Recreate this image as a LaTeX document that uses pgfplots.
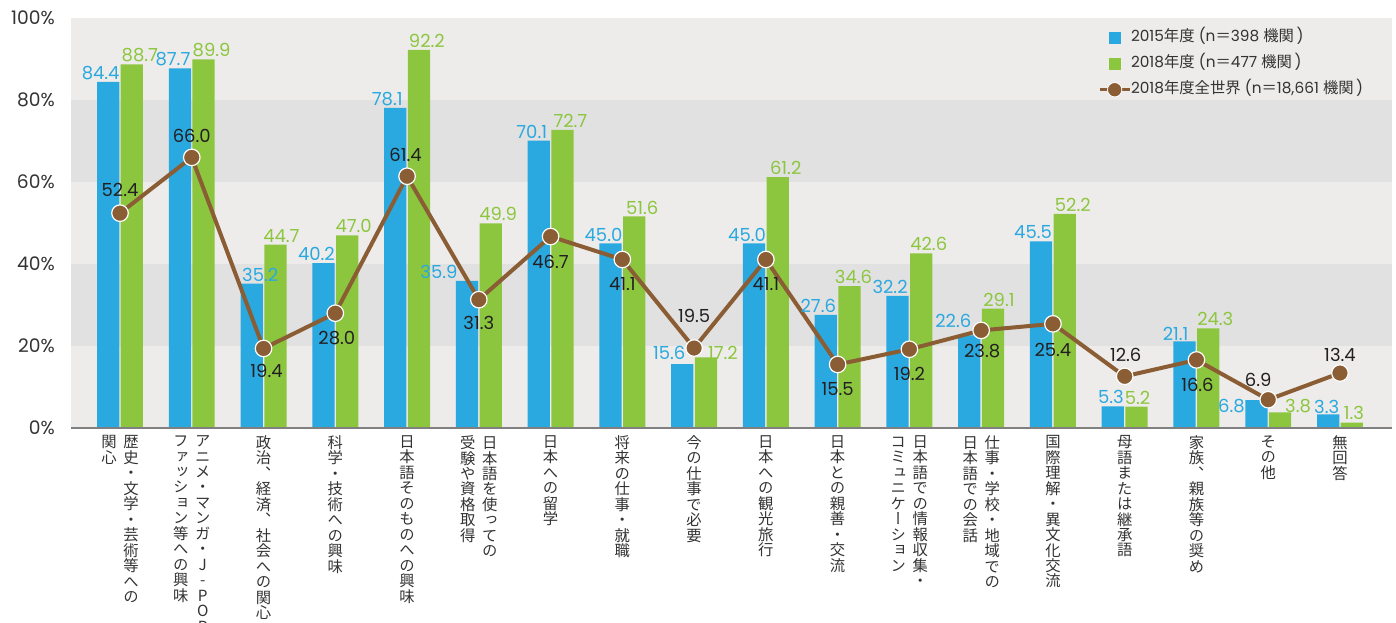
\documentclass[border=0pt]{standalone}
\usepackage{pgfplots}
\pgfplotsset{compat=1.18}
\usepackage{pgfplotstable}
\usepackage{fontspec}
\setmainfont{Poppins}
\newfontfamily\jp{Noto Sans CJK JP}
\newfontfamily\jpv{Noto Sans CJK JP}[RawFeature=+vert]
\definecolor{cblue}{HTML}{29A9E0}
\definecolor{cgreen}{HTML}{8CC63F}
\definecolor{cbrown}{HTML}{8A5D34}
\definecolor{bglight}{HTML}{EEECEA}
\definecolor{bgdark}{HTML}{E1E1E1}
\definecolor{axisgray}{HTML}{808080}
\definecolor{txt}{HTML}{333333}
\definecolor{txtd}{HTML}{231F20}
\makeatletter
\protected\def\vcol#1{\vtop{\baselineskip=11.6pt\lineskiplimit=-100pt\lineskip=0pt\@tfor\vc@c:=#1\do{\hbox to 11.5pt{\hss\vc@c\hss}}}}
\makeatother
\protected\def\vlab#1#2{\hbox{\vcol{#2}\kern5pt\vcol{#1}}}
\pgfplotstableread{
x v15 a15 b15 v18 a18 b18 vw aw bw
0 84.4 -7.5 9 88.7 8 9 52.4 0 23.5
1 87.7 -7 9 89.9 8 9 66.0 0 21
2 35.2 8.5 9 44.7 6 9 19.4 3 -22
3 40.2 -7 9 47.0 6.5 9 28.0 1.5 -24.5
4 78.1 -8 9 92.2 8 9 61.4 -1.5 21.5
5 35.9 -28 9 49.9 7.5 9 31.3 0 -23.5
6 70.1 -7 9 72.7 8 9 46.7 0 -25.5
7 45.0 -7 9 51.6 8 9 41.1 0 -25
8 15.6 -13 11 17.2 17 5 19.5 0 32
9 45.0 -7 9 61.2 8 9 41.1 0 -25
10 27.6 -7.5 9 34.6 4 9 15.5 0 -24.5
11 32.2 -7.5 9 42.6 7.5 9 19.2 0 -24.5
12 22.6 -16 14 29.1 6 9 23.8 1 -20.5
13 45.5 -8 9 52.2 8 9 25.4 0 -26
14 5.3 -2 9 5.2 1 9 12.6 1 21
15 21.1 -9 8 24.3 7 9 16.6 1 -25
16 6.8 -25 -6 3.8 18 6 6.9 -10 19.5
17 3.3 -1.5 8 1.3 2 9.5 13.4 0 18
}\data
\begin{document}
\begin{tikzpicture}
\begin{axis}[
  scale only axis, width=990.75pt, height=307.5pt,
  xmin=-0.683, xmax=17.725, ymin=0, ymax=100,
  clip=false, axis on top,
  separate axis lines,
  axis x line*=bottom, axis y line*=left,
  y axis line style={draw=none},
  x axis line style={draw=axisgray, line width=1.5pt},
  major tick length=0pt,
  xtick={0,...,17},
  xticklabels={
    {\vlab{歴史・文学・芸術等への}{関心}},
    {\vlab{アニメ・マンガ・J-POP・}{ファッション等への興味}},
    {\vcol{政治、経済、社会への関心}},
    {\vcol{科学・技術への興味}},
    {\vcol{日本語そのものへの興味}},
    {\vlab{日本語を使っての}{受験や資格取得}},
    {\vcol{日本への留学}},
    {\vcol{将来の仕事・就職}},
    {\vcol{今の仕事で必要}},
    {\vcol{日本への観光旅行}},
    {\vcol{日本との親善・交流}},
    {\vlab{日本語での情報収集・}{コミュニケーション}},
    {\vlab{仕事・学校・地域での}{日本語での会話}},
    {\vcol{国際理解・異文化交流}},
    {\vcol{母語または継承語}},
    {\vcol{家族、親族等の奨め}},
    {\vcol{その他}},
    {\vcol{無回答}}},
  xticklabel style={anchor=north, inner sep=0pt, yshift=-5.5pt, font=\jpv\fontsize{11.5pt}{11.5pt}\selectfont, text=txt},
  ytick={0,20,...,100},
  yticklabel={\pgfmathprintnumber{\tick}\%},
  yticklabel style={anchor=east, inner sep=0pt, xshift=-12pt, font=\fontsize{14pt}{14pt}\selectfont, text=txt},
  /pgf/number format/assume math mode=true,
  legend cell align=left,
  legend style={at={(0.7775,0.972)}, anchor=north west, draw=none, fill=none, inner sep=0pt,
    row sep=7.5pt, font=\fontsize{11.5pt}{13pt}\selectfont, text=txt,
    nodes={inner sep=0pt, text height=9pt, text depth=3pt},
    /tikz/every even column/.append style={column sep=6.5pt}},
]
\fill[bglight] (rel axis cs:0,0) rectangle (rel axis cs:1,1);
\fill[bgdark] (rel axis cs:0,0.2) rectangle (rel axis cs:1,0.4);
\fill[bgdark] (rel axis cs:0,0.6) rectangle (rel axis cs:1,0.8);

\addplot[ybar, bar width=0.31, bar shift=-0.165, fill=cblue, draw=none,
  legend image code/.code={\fill[cblue] (6.75pt,-4.5pt) rectangle (15.75pt,4.5pt); \path (0pt,0pt) (22.5pt,0pt);}]
  table[x=x, y=v15]{\data};
\addlegendentry{2015{\jp 年度} (n{\jp ＝}398 {\jp 機関}\,)}
\addplot[ybar, bar width=0.31, bar shift=0.165, fill=cgreen, draw=none,
  legend image code/.code={\fill[cgreen] (6.75pt,-4.5pt) rectangle (15.75pt,4.5pt); \path (0pt,0pt) (22.5pt,0pt);}]
  table[x=x, y=v18]{\data};
\addlegendentry{2018{\jp 年度} (n{\jp ＝}477 {\jp 機関}\,)}
\addplot[cbrown, line width=3pt, mark=*, mark size=6.2pt,
  mark options={fill=cbrown, draw=white, line width=0.9pt},
  legend image code/.code={\draw[cbrown, line width=2pt] (0pt,0pt) -- (22.5pt,0pt); \fill[cbrown, draw=white, line width=0.6pt] (11.25pt,0pt) circle (5.4pt);}]
  table[x=x, y=vw]{\data};
\addlegendentry{2018{\jp 年度全世界} (n{\jp ＝}18,661 {\jp 機関}\,)}

\addplot[draw=none, mark=none, forget plot, nodes near coords, point meta=explicit symbolic,
  visualization depends on={\thisrow{a15}\as\ldx},
  visualization depends on={\thisrow{b15}\as\ldy},
  every node near coord/.style={anchor=center, inner sep=0pt, xshift=\ldx*0.75pt, yshift=\ldy*0.75pt, text=cblue, font=\fontsize{13.5pt}{13.5pt}\selectfont}]
  table[x expr=\thisrow{x}-0.165, y=v15, meta=v15]{\data};
\addplot[draw=none, mark=none, forget plot, nodes near coords, point meta=explicit symbolic,
  visualization depends on={\thisrow{a18}\as\ldx},
  visualization depends on={\thisrow{b18}\as\ldy},
  every node near coord/.style={anchor=center, inner sep=0pt, xshift=\ldx*0.75pt, yshift=\ldy*0.75pt, text=cgreen, font=\fontsize{13.5pt}{13.5pt}\selectfont}]
  table[x expr=\thisrow{x}+0.165, y=v18, meta=v18]{\data};
\addplot[draw=none, mark=none, forget plot, nodes near coords, point meta=explicit symbolic,
  visualization depends on={\thisrow{aw}\as\ldx},
  visualization depends on={\thisrow{bw}\as\ldy},
  every node near coord/.style={anchor=center, inner sep=0pt, xshift=\ldx*0.75pt, yshift=\ldy*0.75pt, text=txtd, font=\fontsize{13.5pt}{13.5pt}\selectfont}]
  table[x=x, y=vw, meta=vw]{\data};
\end{axis}
\pgfresetboundingbox
\path (current axis.south west) ++(-53.25pt,-146.25pt) rectangle ([shift={(3pt,13.5pt)}]current axis.north east);
\end{tikzpicture}
\end{document}
